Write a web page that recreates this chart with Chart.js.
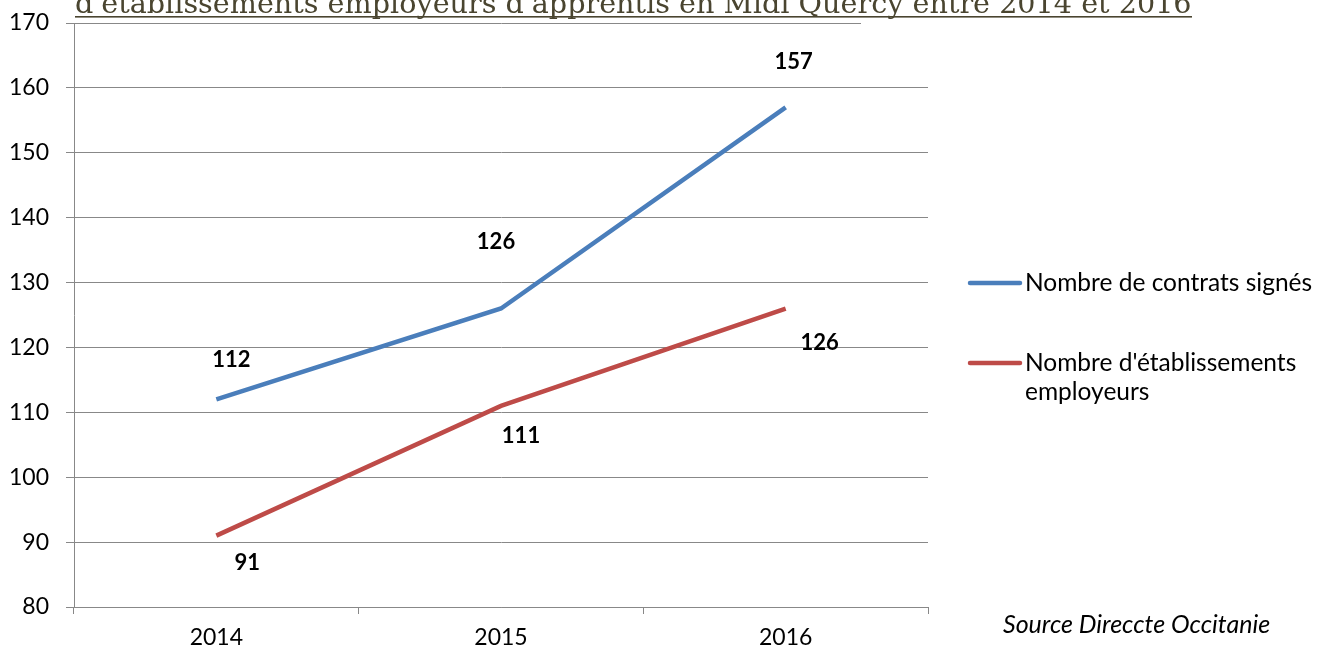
<!DOCTYPE html>
<html>
<head>
<meta charset="utf-8">
<script src="https://cdn.jsdelivr.net/npm/chart.js@4.4.0/dist/chart.umd.min.js"></script>
<style>
  html, body { margin: 0; padding: 0; background: #fff; }
  #wrap { width: 1318px; height: 651px; position: relative; }
</style>
</head>
<body>
<div id="wrap"><canvas id="myChart" width="1318" height="651"></canvas></div>
<script>
const years = ['2014', '2015', '2016'];
const contrats = [112, 126, 157];
const etablissements = [91, 111, 126];
const yTicks = [80, 90, 100, 110, 120, 130, 140, 150, 160, 170];

const titleText = "d'établissements employeurs d'apprentis en Midi Quercy entre 2014 et 2016";
const sourceText = 'Source Direccte Occitanie';
const FONT = 'Lato, "Open Sans", sans-serif';

// offsets of the value labels relative to each point (px)
const labelOffsets = [
  [[15, -39], [-5, -67], [8, -45]],
  [[31, 27], [20, 30], [34, 34]]
];

const extras = {
  id: 'extras',
  afterDatasetsDraw(chart) {
    const c = chart.ctx;
    c.save();
    // value labels
    c.font = 'bold 22px ' + FONT;
    c.fillStyle = '#000';
    c.textAlign = 'center';
    c.textBaseline = 'middle';
    chart.data.datasets.forEach((ds, i) => {
      chart.getDatasetMeta(i).data.forEach((pt, j) => {
        const o = labelOffsets[i][j];
        c.fillText(String(ds.data[j]), pt.x + o[0], pt.y + o[1]);
      });
    });

    // legend
    const legendY = [283, 363];
    c.font = '24.5px ' + FONT;
    c.textAlign = 'left';
    c.lineCap = 'round';
    chart.data.datasets.forEach((ds, i) => {
      const y = legendY[i];
      c.strokeStyle = ds.borderColor;
      c.lineWidth = 4.5;
      c.beginPath();
      c.moveTo(970, y);
      c.lineTo(1020, y);
      c.stroke();
      const lines = Array.isArray(ds.legendLines) ? ds.legendLines : [ds.label];
      lines.forEach((t, k) => c.fillText(t, 1025, y + k * 29));
    });

    // source
    c.font = 'italic 25px ' + FONT;
    c.fillText(sourceText, 1003, 625);

    // title box hides the end of the top gridline
    c.fillStyle = '#fff';
    c.fillRect(861, 20, 70, 5);

    // title (cut at top like the original)
    let size = 26;
    c.font = size + 'px "DejaVu Serif", serif';
    const w = c.measureText(titleText).width;
    size = size * 1117 / w;
    c.font = size + 'px "DejaVu Serif", serif';
    c.fillStyle = '#4a4530';
    c.textBaseline = 'alphabetic';
    c.fillText(titleText, 75, 13);
    c.fillRect(75, 16, 1117, 1.6);
    c.restore();
  }
};

const ctx = document.getElementById('myChart');
const myChart = new Chart(ctx, {
  type: 'line',
  data: {
    labels: years,
    datasets: [{
      label: 'Nombre de contrats signés',
      data: contrats,
      borderColor: '#4a7ebb',
      borderWidth: 4.5,
      pointRadius: 0,
      tension: 0
    }, {
      label: "Nombre d'établissements employeurs",
      legendLines: ["Nombre d'établissements", 'employeurs'],
      data: etablissements,
      borderColor: '#be4b48',
      borderWidth: 4.5,
      pointRadius: 0,
      tension: 0
    }]
  },
  options: {
    responsive: false,
    animation: false,
    layout: { padding: { left: 0, right: 390, top: 23, bottom: 0 } },
    plugins: { legend: { display: false }, tooltip: { enabled: false } },
    scales: {
      x: {
        offset: true,
        grid: { display: true, drawOnChartArea: false, offset: true, color: '#888', tickLength: 7 },
        border: { color: '#888', width: 1 },
        ticks: { color: '#000', font: { size: 23, family: FONT }, padding: 10 },
        afterFit(scale) { scale.height = 44; }
      },
      y: {
        min: 80,
        max: 170,
        afterBuildTicks(scale) { scale.ticks = yTicks.map(v => ({ value: v })); },
        grid: { color: '#888', tickLength: 8 },
        border: { color: '#888', width: 1 },
        ticks: { color: '#000', font: { size: 23, family: FONT, lineHeight: 0.5 }, padding: 17 },
        afterFit(scale) { scale.width = 74; }
      }
    }
  },
  plugins: [extras]
});
</script>
</body>
</html>
